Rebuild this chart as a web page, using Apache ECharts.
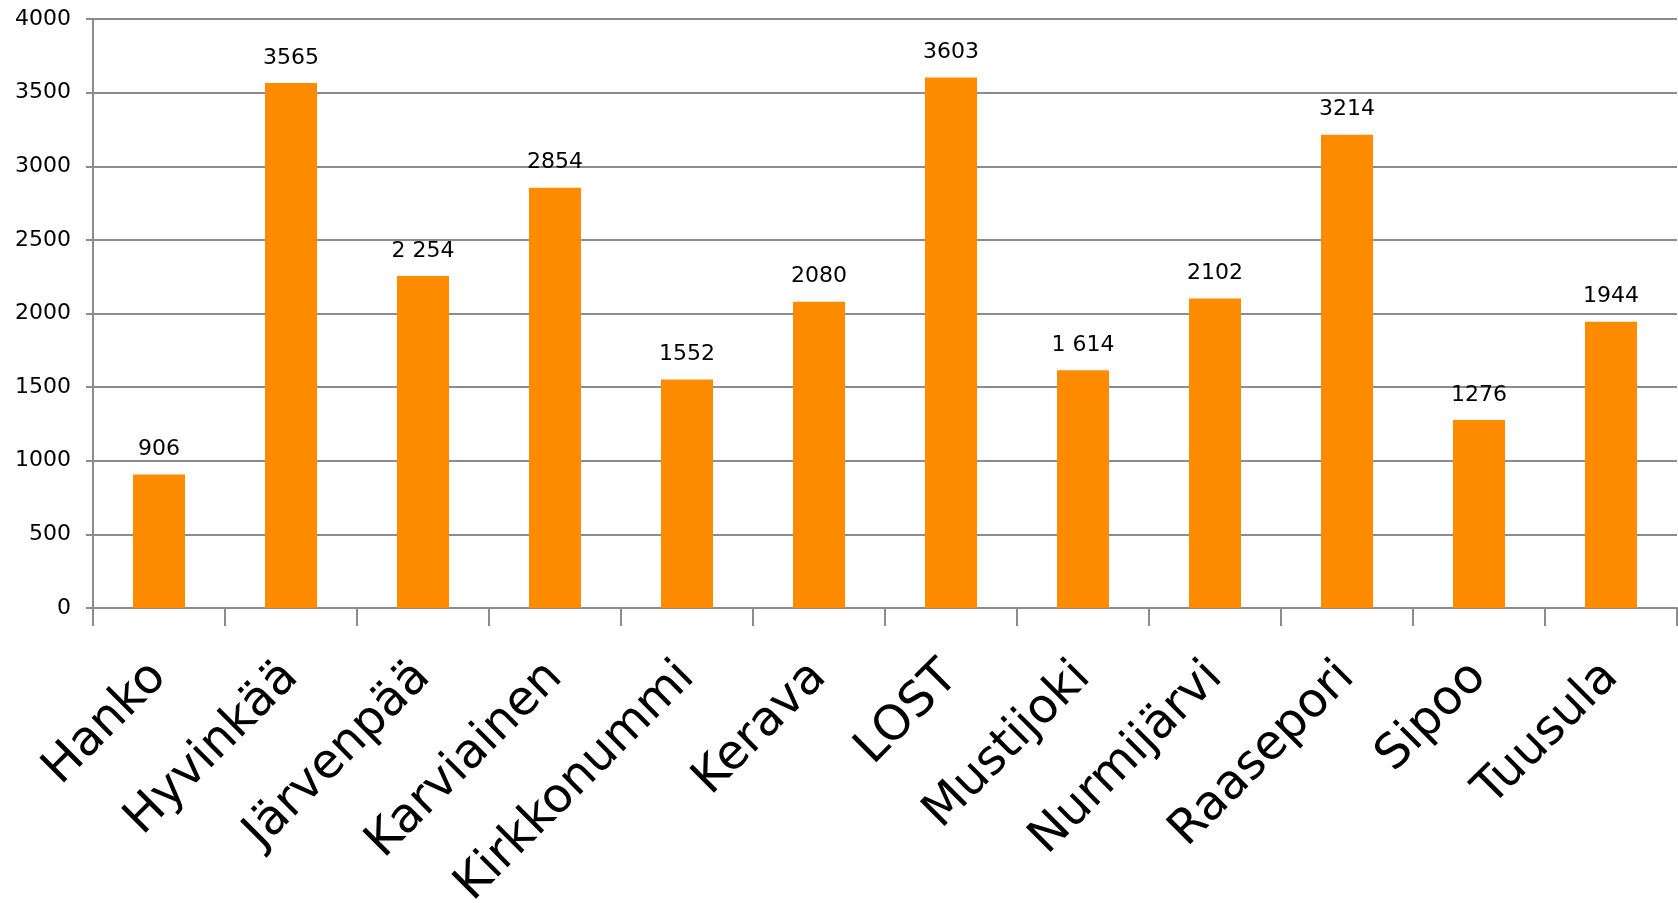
<!DOCTYPE html>
<html><head><meta charset="utf-8">
<script src="https://cdn.jsdelivr.net/npm/echarts@6/dist/echarts.min.js"></script>
<style>html,body{margin:0;padding:0;background:#fff}#c{width:1678px;height:903px}</style>
</head><body><div id="c"></div>
<script>
const categories = ['Hanko','Hyvinkää','Järvenpää','Karviainen','Kirkkonummi','Kerava','LOST','Mustijoki','Nurmijärvi','Raasepori','Sipoo','Tuusula'];
const values = [906,3565,2254,2854,1552,2080,3603,1614,2102,3214,1276,1944];
const valueLabels = ['906','3565','2 254','2854','1552','2080','3603','1 614','2102','3214','1276','1944'];
const yTicks = [0,500,1000,1500,2000,2500,3000,3500,4000];

const FONT = '"DejaVu Sans", sans-serif';
const chart = echarts.init(document.getElementById('c'), null, {renderer:'canvas'});
chart.setOption({
  animation:false,
  backgroundColor:'#fff',
  grid:{left:93,right:1,top:19,bottom:295,containLabel:false,outerBoundsMode:'none'},
  xAxis:{
    type:'category',
    data:categories,
    axisLine:{show:true,lineStyle:{color:'#8c8c8c',width:2}},
    axisTick:{show:true,length:18,lineStyle:{color:'#8c8c8c',width:2}},
    axisLabel:{rotate:45,margin:62,fontSize:48,color:'#000',fontFamily:FONT,interval:0}
  },
  yAxis:{
    type:'value',
    min:yTicks[0],max:yTicks[yTicks.length-1],interval:500,
    axisLine:{show:true,lineStyle:{color:'#8c8c8c',width:2}},
    axisTick:{show:true,length:7,lineStyle:{color:'#8c8c8c',width:2}},
    splitLine:{show:true,lineStyle:{color:'#8c8c8c',width:2}},
    axisLabel:{margin:22,fontSize:22,color:'#000',fontFamily:FONT,formatter:v=>String(v)}
  },
  series:[{
    type:'bar',
    data:values,
    barWidth:52,
    itemStyle:{color:'#FF8C00'},
    label:{show:true,position:'top',distance:14,fontSize:22,color:'#000',fontFamily:FONT,
      formatter:p=>valueLabels[p.dataIndex]}
  }]
});
</script></body></html>
